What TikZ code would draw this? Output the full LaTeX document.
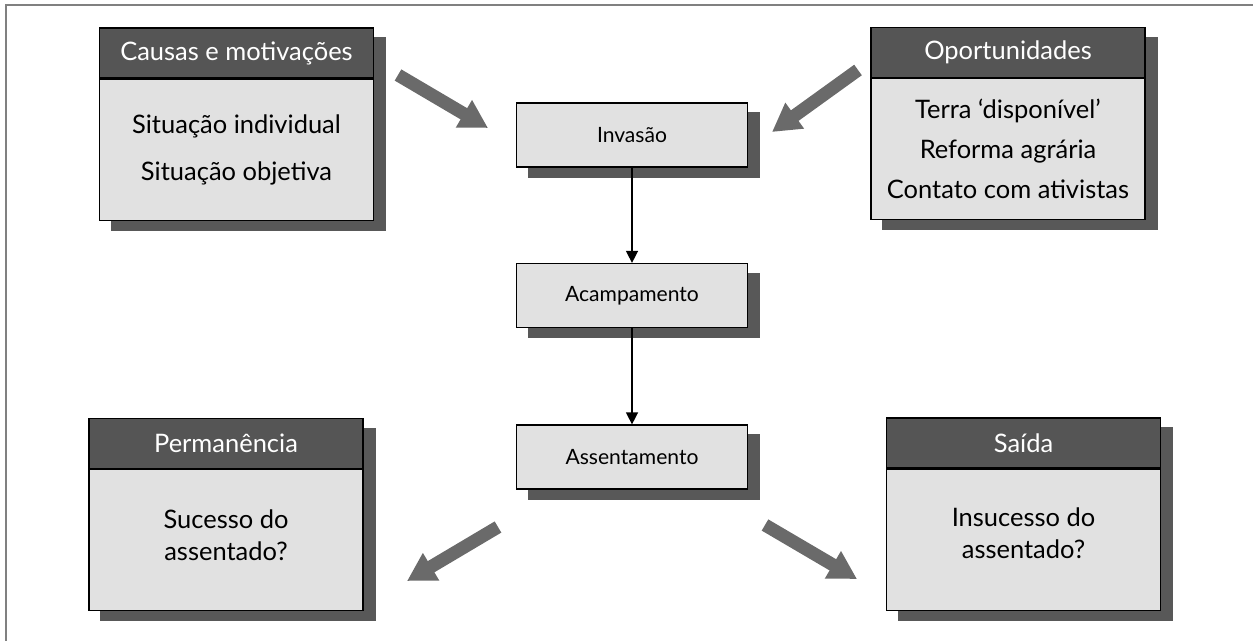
\documentclass[tikz,border=0pt]{standalone}
\usepackage{fontspec}
\setmainfont{Lato}
\usepackage{tikz}
\usetikzlibrary{positioning,arrows.meta,backgrounds}

\definecolor{headgray}{HTML}{555555}
\definecolor{bodygray}{HTML}{E1E1E1}
\definecolor{shadowgray}{HTML}{585858}
\definecolor{arrowgray}{HTML}{6A6A6A}
\definecolor{framegray}{HTML}{808080}

\newcommand{\boxfont}{\fontsize{14.5}{18}\selectfont}
\newcommand{\stagefont}{\fontsize{12}{14}\selectfont}

\tikzset{
	headbox/.style={draw=black, line width=0.7pt, fill=headgray, text=white, minimum width=5.48cm, minimum height=1cm, inner sep=0pt, font=\boxfont},
	bodybox/.style={draw=black, line width=0.7pt, fill=bodygray, minimum width=5.48cm, minimum height=2.82cm, inner sep=0pt, align=center, font=\boxfont},
	stagebox/.style={draw=black, line width=0.7pt, fill=bodygray, minimum width=4.62cm, minimum height=1.28cm, inner sep=0pt, font=\stagefont},
	boxshadow/.style={fill=shadowgray},
	flowarrow/.style={-{Triangle[length=0.24cm,width=0.24cm]}, line width=0.8pt},
	bigarrow/.style={-{Triangle[length=0.56cm,width=0.6cm]}, line width=0.26cm, draw=arrowgray}
}

\begin{document}
\begin{tikzpicture}[x=0.02cm, y=-0.02cm]
	
	\useasboundingbox (0,0) rectangle (1253,641);
	\draw[framegray, line width=1.2pt] (6,641) -- (6,5) -- (1253,5);
	
	% causas e oportunidades
	\node[headbox] (causas) at (236.5,53) {Causas e motivações};
	\node[bodybox, below=0pt of causas] (causasbody) {Situação individual\\[9pt]Situação objetiva};
	\node[headbox] (oport) at (1008,52.5) {Oportunidades};
	\node[bodybox, below=0pt of oport] (oportbody) {Terra ‘disponível’\\[4.8pt]Reforma agrária\\[4.8pt]Contato com ativistas};
	
	% etapas
	\node[stagebox] (invasao) at (632,135) {Invasão};
	\node[stagebox] (acamp) at (632,295.5) {Acampamento};
	\node[stagebox] (assent) at (632,457) {Assentamento};
	
	% resultados
	\node[headbox] (perman) at (226,443.5) {Permanência};
	\node[bodybox, below=0pt of perman] (permanbody) {Sucesso do\\assentado?\rule[-5.7pt]{0pt}{5.7pt}};
	\node[headbox] (saida) at (1023.5,443) {Saída};
	\node[bodybox, below=0pt of saida] (saidabody) {Insucesso do\\[0.4pt]assentado?\rule[-7.8pt]{0pt}{7.8pt}};
	
	\begin{scope}[on background layer]
		\foreach \top/\bottom in {causas/causasbody, oport/oportbody, perman/permanbody, saida/saidabody, invasao/invasao, acamp/acamp, assent/assent}
			\fill[boxshadow] ([shift={(12,10)}]\top.north west) rectangle ([shift={(12,10)}]\bottom.south east);
	\end{scope}
	
	\draw[flowarrow] (invasao) -- (acamp);
	\draw[flowarrow] (acamp) -- (assent);
	
	\coordinate (c1) at (398,75);
	\coordinate (c2) at (488,128);
	\coordinate (o1) at (858,70);
	\coordinate (o2) at (772,132);
	\coordinate (p1) at (498,527);
	\coordinate (p2) at (407,581);
	\coordinate (s1) at (765,525);
	\coordinate (s2) at (857,579);
	\draw[bigarrow] (c1) -- (c2);
	\draw[bigarrow] (o1) -- (o2);
	\draw[bigarrow] (p1) -- (p2);
	\draw[bigarrow] (s1) -- (s2);
	
\end{tikzpicture}
\end{document}
